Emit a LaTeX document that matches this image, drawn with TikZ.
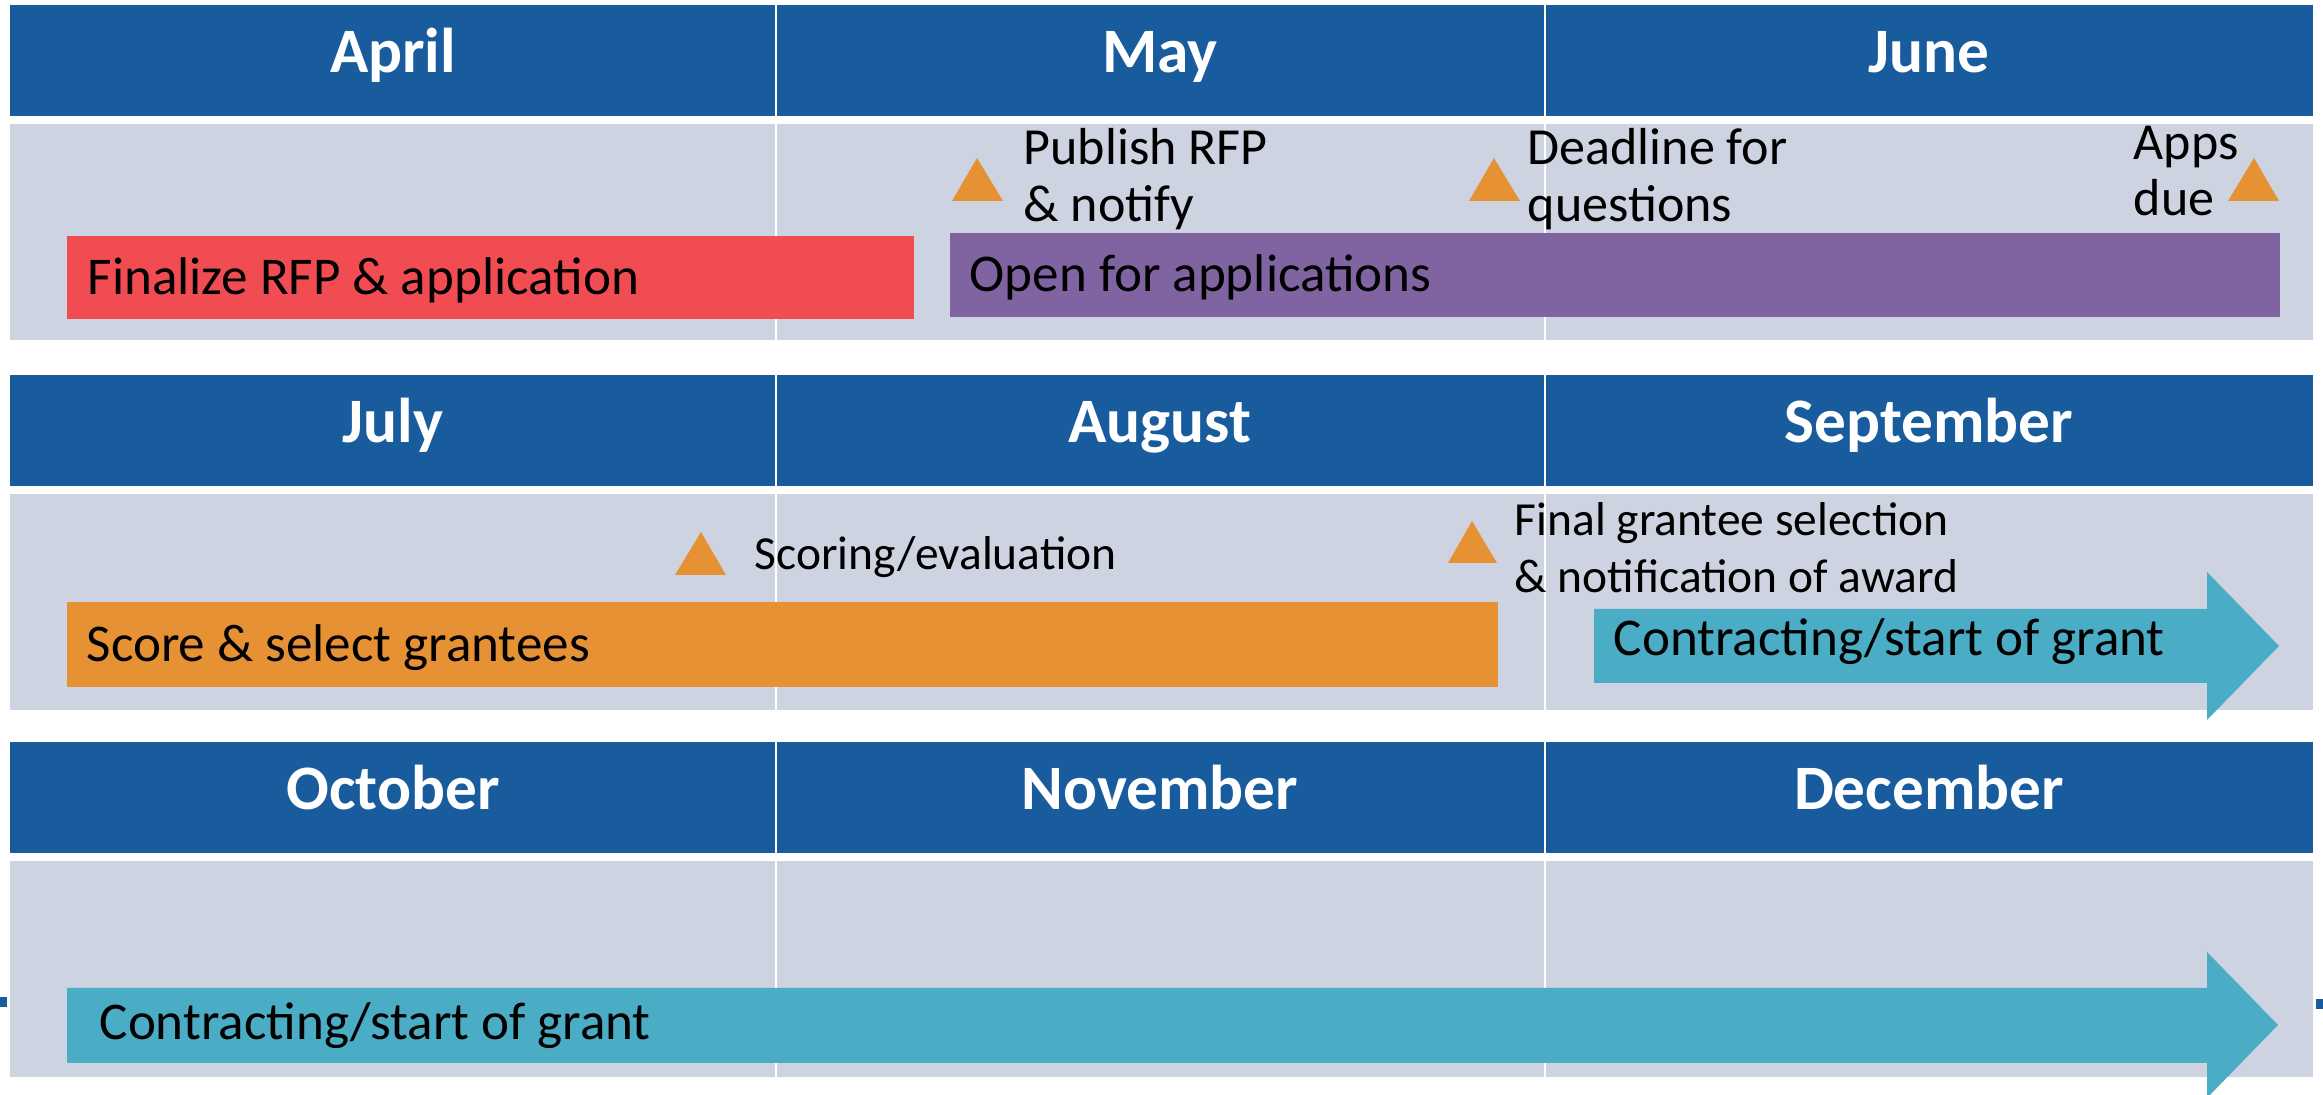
\documentclass[tikz,border=0pt]{standalone}
\usepackage{fontspec}
\setmainfont{Carlito}
\definecolor{hdrblue}{RGB}{24,92,158}
\definecolor{cellgray}{RGB}{205,211,225}
\definecolor{barred}{RGB}{240,76,81}
\definecolor{barpurple}{RGB}{128,100,162}
\definecolor{barorange}{RGB}{230,146,52}
\definecolor{barteal}{RGB}{75,172,198}
\begin{document}
\begin{tikzpicture}[x=0.01cm,y=-0.01cm,
  month/.style={font=\fontsize{18}{20}\selectfont\bfseries, text=white, anchor=base, inner sep=0pt},
  bartext/.style={font=\fontsize{15.1}{17}\selectfont, anchor=base west, inner sep=0pt},
  note/.style={font=\fontsize{14.8}{17}\selectfont, anchor=base west, inner sep=0pt},
  notesm/.style={font=\fontsize{13.5}{16}\selectfont, anchor=base west, inner sep=0pt},
  divider/.style={white, line width=0.6pt},
  milestone/.style={fill=barorange}]
\useasboundingbox (0,0) rectangle (2323,1095);

% three quarters: month header strip over a grey body strip
\foreach \top/\ma/\mb/\mc in {5/April/May/June, 375/July/August/September, 742/October/November/December}{
  \fill[hdrblue] (10,\top) rectangle (2313,\top+111);
  \fill[cellgray] (10,\top+119) rectangle (2313,\top+335);
  \draw[divider] (776,\top) -- (776,\top+335);
  \draw[divider] (1545,\top) -- (1545,\top+335);
  \node[month] (m-\ma) at (393,\top+68) {\ma};
  \node[month] (m-\mb) at (1160,\top+68) {\mb};
  \node[month] (m-\mc) at (1929,\top+68) {\mc};
}

% small edge fragments beside the last quarter
\fill[hdrblue] (0,997) rectangle (7,1007);
\fill[hdrblue] (2316,999) rectangle (2323,1009);

% April - June
\fill[barred] (67,236) rectangle (914,319);
\node[bartext] (finalize) at (87,295) {Finalize RFP \& application};
\fill[barpurple] (950,233) rectangle (2280,317);
\node[bartext] (open) at (969,292) {Open for applications};

\fill[milestone] (952,201) -- (977,158) -- (1003,201) -- cycle;
\node[note] (pub1) at (1023,165) {Publish RFP};
\node[note] (pub2) at (1023,222) {\& notify};
\fill[milestone] (1469,201) -- (1494,158) -- (1520,201) -- cycle;
\node[note] (ddl1) at (1527,165) {Deadline for};
\node[note] (ddl2) at (1527,222) {questions};
\fill[milestone] (2228,201) -- (2254,158) -- (2279,201) -- cycle;
\node[note] (due1) at (2133,160) {Apps};
\node[note] (due2) at (2133,216) {due};

% July - September
\fill[barorange] (67,602) rectangle (1498,687);
\node[bartext] (score) at (86,662) {Score \& select grantees};
\fill[barteal] (1594,609) -- (2207,609) -- (2207,572) -- (2279,646)
  -- (2207,720) -- (2207,683) -- (1594,683) -- cycle;
\node[bartext] (contract1) at (1613,656) {Contracting/start of grant};

\fill[milestone] (675,575) -- (701,532) -- (726,575) -- cycle;
\node[notesm] (scoring) at (754,570) {Scoring/evaluation};
\fill[milestone] (1448,563) -- (1472,521) -- (1497,563) -- cycle;
\node[notesm] (sel1) at (1514,536) {Final grantee selection};
\node[notesm] (sel2) at (1514,593) {\& notification of award};

% October - December
\fill[barteal] (67,988) -- (2207,988) -- (2207,952) -- (2278,1025)
  -- (2207,1098) -- (2207,1063) -- (67,1063) -- cycle;
\node[bartext] (contract2) at (99,1040) {Contracting/start of grant};
\end{tikzpicture}
\end{document}
